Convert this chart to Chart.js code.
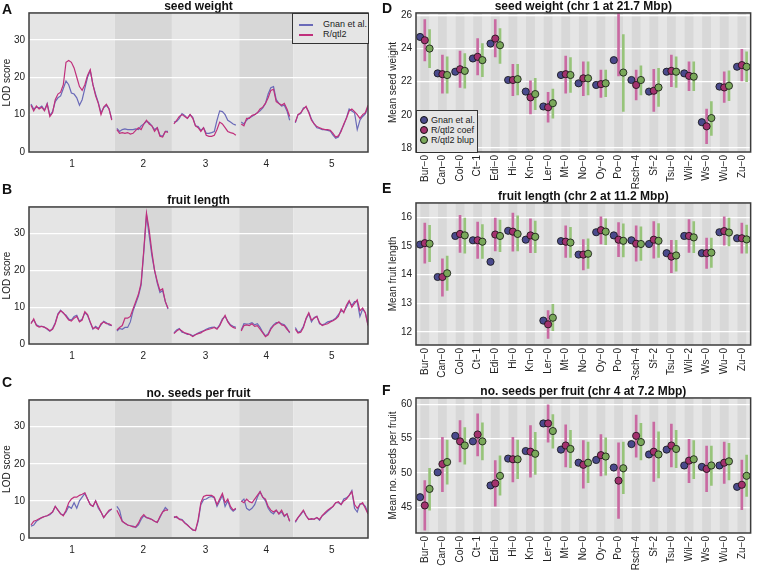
<!DOCTYPE html>
<html>
<head>
<meta charset="utf-8">
<script src="https://cdn.jsdelivr.net/npm/chart.js@4.4.1/dist/chart.umd.min.js"></script>
<style>
  body { margin: 0; background: #fff; font-family: "Liberation Sans", Arial, sans-serif; }
  #page { position: relative; width: 757px; height: 571px; overflow: hidden; }
  canvas { position: absolute; }
  .letter { position: absolute; font-weight: bold; font-size: 14px; line-height: 14px; color: #111; }
  .legend { position: absolute; box-sizing: border-box; border: 1px solid #333; background: #e5e5e5;
            font-size: 9px; color: #222; }
  .legend div { position: absolute; white-space: nowrap; line-height: 10px; }
  .legend i { position: absolute; display: block; }
</style>
</head>
<body>
<div id="page">
  <canvas id="scanA" width="378" height="172" style="left:0;top:0"></canvas>
  <canvas id="scanB" width="378" height="170" style="left:0;top:194px"></canvas>
  <canvas id="scanC" width="378" height="171" style="left:0;top:387px"></canvas>
  <canvas id="effD" width="377" height="192" style="left:380px;top:0"></canvas>
  <canvas id="effE" width="377" height="190" style="left:380px;top:190px"></canvas>
  <canvas id="effF" width="377" height="186" style="left:380px;top:385px"></canvas>

  <div class="letter" style="left:2px;top:2px">A</div>
  <div class="letter" style="left:2px;top:182px">B</div>
  <div class="letter" style="left:2px;top:375px">C</div>
  <div class="letter" style="left:382px;top:1px">D</div>
  <div class="letter" style="left:382px;top:181px">E</div>
  <div class="letter" style="left:382px;top:383px">F</div>

  <div class="legend" style="left:292px;top:13px;width:77px;height:31px">
    <i style="left:6px;top:10px;width:14px;height:1.5px;background:#6a6ab8"></i>
    <div style="left:30px;top:5px">Gnan et al.</div>
    <i style="left:6px;top:20px;width:14px;height:1.5px;background:#c0307c"></i>
    <div style="left:30px;top:15px">R/qtl2</div>
  </div>

  <div class="legend" style="left:416px;top:110px;width:62px;height:43px">
    <i style="left:3px;top:5px;width:6px;height:6px;border-radius:50%;border:0.8px solid #111;background:#4a4a8c"></i>
    <div style="left:14px;top:4px">Gnan et al.</div>
    <i style="left:3px;top:15px;width:6px;height:6px;border-radius:50%;border:0.8px solid #111;background:#a3326e"></i>
    <div style="left:14px;top:14px">R/qtl2 coef</div>
    <i style="left:3px;top:25px;width:6px;height:6px;border-radius:50%;border:0.8px solid #111;background:#7aa85a"></i>
    <div style="left:14px;top:24px">R/qtl2 blup</div>
  </div>
</div>

<script>
// ---- genome scans (A-C) ----
const CHR_NAMES = ['1', '2', '3', '4', '5'];
const CHR_LENGTHS = [30.4, 19.7, 23.5, 18.6, 27.0]; // Mbp
const CHR_GAP = 1.5;
const POS_STEP = 1; // Mbp between read-off points
const LOD_TICKS = [0, 10, 20, 30];

// LOD by chromosome, one value per POS_STEP from 0 Mbp
const seedWeightGnan = [
  [12.8,11.5,12.0,11.8,12.3,11.2,13.0,9.8,10.8,13.5,14.5,15.0,17.0,19.0,18.0,15.8,15.5,14.5,12.5,14.0,17.0,20.0,21.8,18.0,15.5,13.2,10.5,11.8,12.5,11.5,8.8],
  [6.3,5.5,6.0,6.2,6.0,6.0,6.0,6.2,6.0,7.0,7.5,8.2,7.8,7.0,6.0,6.5,4.5,4.2,5.5,5.5],
  [8.0,8.2,9.0,10.3,9.8,9.0,10.0,9.3,7.0,6.8,5.8,6.5,5.0,5.0,5.2,5.5,8.5,11.0,10.8,10.0,8.5,8.0,7.5,7.2],
  [8.0,7.5,8.5,9.2,9.5,10.0,10.5,11.0,11.8,13.0,15.5,17.2,17.5,14.0,13.0,12.3,12.5,11.0,8.5],
  [7.8,10.0,10.3,11.8,12.0,10.8,8.8,7.5,6.5,6.3,6.0,6.0,5.8,5.6,4.5,3.7,4.0,5.8,7.2,9.2,11.5,11.0,10.5,6.0,8.5,9.5,10.2,12.0]
];
const seedWeightRqtl2 = [
  [12.5,11.0,12.3,11.5,12.0,11.0,12.8,9.5,10.5,14.0,15.5,16.0,18.0,24.0,24.5,24.0,22.5,20.0,17.5,16.5,18.0,20.5,22.0,18.0,15.0,13.0,10.0,12.0,12.8,11.5,8.5],
  [6.0,5.0,5.2,5.0,5.2,4.8,5.0,5.8,6.5,6.0,7.5,8.5,7.5,7.0,5.5,6.5,4.2,4.0,5.5,5.2],
  [7.5,8.5,9.5,10.0,9.5,9.0,10.0,9.0,7.0,6.5,5.5,6.5,4.5,4.2,4.2,4.5,6.0,8.0,7.5,6.5,5.5,5.2,5.0,4.5],
  [7.5,7.0,9.0,9.0,9.8,10.0,10.5,11.5,12.0,13.0,14.5,16.5,16.8,13.5,13.0,12.5,13.0,11.5,9.5],
  [8.0,10.0,10.5,11.5,12.2,10.5,8.5,7.5,6.8,6.5,6.2,6.0,6.0,5.8,5.0,4.0,4.3,5.5,7.5,9.0,11.0,11.5,10.8,10.0,9.0,10.0,10.5,12.5]
];
const fruitLengthGnan = [
  [5.8,6.5,5.2,4.8,4.8,4.6,4.0,3.5,4.2,5.8,8.2,9.2,8.3,7.8,6.8,6.5,7.5,7.8,6.2,6.8,8.5,7.8,5.8,4.0,4.8,4.2,5.2,6.2,5.8,5.2,5.0],
  [3.5,4.2,4.0,4.5,4.5,6.0,9.0,11.0,13.0,16.0,25.0,35.0,29.5,24.0,20.0,16.5,14.0,14.5,11.5,9.5],
  [3.0,3.8,4.2,3.2,3.0,2.6,2.6,2.2,2.6,3.0,3.3,3.6,4.0,4.3,4.5,4.6,4.2,5.2,6.8,7.5,6.2,5.2,4.8,4.5],
  [3.8,5.5,5.4,5.5,5.8,5.2,5.5,4.5,3.2,2.2,2.8,4.3,5.2,5.8,5.8,5.5,5.2,4.3,3.0],
  [4.5,3.2,3.5,4.8,6.8,8.2,6.0,7.2,7.5,5.5,5.2,5.5,6.0,6.2,6.5,7.0,8.0,9.0,8.8,10.0,11.5,10.5,11.5,11.5,7.5,9.5,8.5,5.2]
];
const fruitLengthRqtl2 = [
  [5.5,6.8,5.0,4.6,4.8,4.5,4.2,3.6,4.0,5.5,8.0,9.0,8.5,7.5,6.5,6.2,7.0,7.5,6.0,6.5,8.8,8.0,6.0,4.2,4.5,4.0,5.5,6.0,5.5,5.5,5.0],
  [3.8,4.5,5.0,7.0,7.0,7.5,9.5,11.5,13.5,16.5,25.5,35.5,31.0,25.0,20.0,17.0,14.5,15.0,11.5,9.7],
  [2.8,3.5,4.0,3.5,3.0,2.8,2.5,2.0,2.5,2.8,3.0,3.5,3.8,4.0,4.2,4.5,4.0,5.0,6.5,7.8,6.0,5.0,4.5,4.2],
  [3.5,5.0,5.2,5.0,5.5,4.8,5.0,4.0,3.0,2.0,2.5,4.0,5.0,5.5,6.0,5.2,5.0,4.0,3.2],
  [4.0,3.0,3.2,4.5,7.0,8.5,6.5,7.0,7.5,5.8,5.0,5.3,5.5,6.0,6.3,6.8,7.5,9.5,8.5,10.5,11.8,10.0,11.0,12.0,9.0,9.8,8.5,5.0]
];
const seedsPerFruitGnan = [
  [3.2,3.5,4.5,5.0,5.5,5.8,6.0,6.3,7.0,8.5,7.5,6.5,6.2,7.0,8.5,8.0,9.5,8.0,10.0,11.0,12.0,10.5,9.0,8.5,10.0,8.0,7.0,5.5,6.5,7.2,7.8],
  [8.5,7.5,4.5,4.0,3.5,3.3,3.2,2.8,3.5,5.0,6.0,5.5,5.3,5.0,4.5,4.2,5.5,7.0,8.2,7.5],
  [5.8,5.5,5.2,5.0,4.2,3.5,2.8,2.2,2.0,4.5,9.0,10.3,10.5,11.0,11.2,10.8,8.5,10.0,11.5,8.5,10.0,8.0,7.2,7.8],
  [9.8,10.5,8.0,7.5,8.0,9.0,11.0,12.5,11.0,10.0,8.0,7.0,6.5,7.5,6.5,7.0,5.8,6.5,4.5],
  [4.2,5.5,6.3,7.3,6.0,5.0,5.0,5.2,5.5,4.8,6.0,6.5,7.2,7.8,8.5,9.5,9.5,9.0,10.5,10.8,11.5,12.8,8.0,7.0,9.2,9.2,8.5,6.8]
];
const seedsPerFruitRqtl2 = [
  [3.5,4.5,4.8,5.2,5.5,5.8,6.0,6.5,7.0,8.5,7.5,6.5,6.0,7.5,9.5,10.5,11.0,11.0,11.5,11.8,12.2,10.5,9.0,8.5,10.0,8.5,7.0,5.5,6.5,7.5,7.8],
  [7.5,6.0,4.5,4.0,3.5,3.3,3.0,3.0,4.0,5.5,6.3,5.5,5.3,5.0,4.5,4.2,5.8,7.0,7.5,7.5],
  [5.5,5.8,5.0,4.8,4.0,3.5,2.8,2.2,2.0,5.0,9.5,11.2,11.5,11.5,11.5,11.0,9.0,10.5,12.0,9.5,10.5,8.5,7.5,8.0],
  [10.0,9.5,10.5,9.8,9.5,10.5,11.5,12.5,11.0,10.5,8.5,7.5,7.0,7.5,6.5,7.5,6.0,6.5,4.5],
  [4.5,5.5,6.5,7.5,6.0,5.0,5.2,5.0,5.5,5.0,6.0,6.8,7.5,8.0,8.5,9.5,9.8,9.0,10.0,10.5,11.5,12.5,9.0,8.0,9.0,9.5,8.0,6.5]
];

// ---- accession effects (D-F) ----
const ACCESSIONS = ['Bur−0','Can−0','Col−0','Ct−1','Edi−0','Hi−0','Kn−0','Ler−0','Mt−0','No−0',
                    'Oy−0','Po−0','Rsch−4','Sf−2','Tsu−0','Wil−2','Ws−0','Wu−0','Zu−0'];

const seedWeightTicks = [18, 20, 22, 24, 26];
const seedWeightGnanMean = [24.7,22.5,22.6,23.4,24.3,22.1,21.4,20.5,22.4,21.9,21.8,23.3,22.1,21.4,22.6,22.5,19.55,21.7,22.9];
const seedWeightCoef     = [24.5,22.45,22.75,23.5,24.6,22.1,21.05,20.45,22.45,22.2,21.85,26.9,21.8,21.45,22.65,22.35,19.3,21.65,23.0];
const seedWeightCoefLo   = [23.25,21.3,21.65,22.4,23.5,21.15,20.05,19.55,21.3,21.15,21.05,22.35,20.9,20.2,21.7,21.45,18.25,20.75,22.05];
const seedWeightCoefHi   = [25.75,23.6,23.85,24.6,25.75,23.05,22.05,21.35,23.55,23.2,22.7,31.4,22.7,22.75,23.6,23.2,20.35,22.6,23.95];
const seedWeightBlup     = [24.0,22.4,22.65,23.3,24.2,22.15,21.25,20.7,22.4,22.2,21.9,22.55,22.1,21.65,22.6,22.3,19.8,21.75,22.9];
const seedWeightBlupLo   = [22.85,21.3,21.6,22.3,23.1,21.2,20.3,19.8,21.35,21.2,21.1,20.2,21.2,20.5,21.65,21.45,18.75,20.85,22.0];
const seedWeightBlupHi   = [25.15,23.5,23.7,24.3,25.2,23.05,22.2,21.55,23.45,23.2,22.7,24.85,22.95,22.8,23.5,23.2,20.8,22.65,23.8];

const fruitLengthTicks = [12, 13, 14, 15, 16];
const fruitLengthGnanMean = [15.05,13.92,15.35,15.2,14.45,15.53,15.22,12.4,15.17,14.7,15.48,15.37,15.2,15.07,14.75,15.35,14.75,15.48,15.27];
const fruitLengthCoef     = [15.1,13.92,15.42,15.2,15.4,15.5,15.37,12.27,15.15,14.7,15.55,15.22,15.08,15.22,14.63,15.35,14.75,15.52,15.27];
const fruitLengthCoefLo   = [14.4,13.25,14.78,14.57,14.83,14.82,14.77,11.78,14.6,14.17,15.07,14.63,14.47,14.58,14.07,14.78,14.22,15.03,14.75];
const fruitLengthCoefHi   = [15.8,14.55,16.07,15.83,15.97,16.15,15.95,12.75,15.7,15.22,16.02,15.82,15.7,15.85,15.2,15.92,15.28,16.02,15.8];
const fruitLengthBlup     = [15.08,14.05,15.37,15.15,15.35,15.42,15.32,12.5,15.12,14.73,15.5,15.18,15.07,15.18,14.67,15.3,14.77,15.47,15.23];
const fruitLengthBlupLo   = [14.45,13.45,14.75,14.57,14.8,14.83,14.77,12.05,14.6,14.22,15.05,14.62,14.5,14.6,14.12,14.77,14.25,15.0,14.75];
const fruitLengthBlupHi   = [15.72,14.65,15.97,15.75,15.9,16.05,15.87,12.97,15.65,15.25,15.95,15.77,15.67,15.78,15.2,15.85,15.28,15.97,15.73];

const seedsTicks = [45, 50, 55, 60];
const seedsGnanMean = [46.5,50.1,55.4,54.6,48.2,52.1,53.2,57.2,53.4,51.5,51.9,50.8,54.2,52.7,53.4,51.1,50.9,51.1,48.0];
const seedsCoef     = [45.3,51.3,54.6,55.6,48.5,52.0,53.1,57.2,54.0,51.2,52.6,48.9,55.4,53.1,54.0,51.8,50.6,51.5,48.3];
const seedsCoefLo   = [41.7,47.3,51.6,52.5,45.2,48.7,49.4,54.5,50.9,47.8,49.6,43.4,52.3,48.8,50.9,48.6,47.3,48.5,44.7];
const seedsCoefHi   = [48.9,55.2,57.6,58.6,51.8,55.2,56.9,59.9,57.0,54.7,55.6,54.4,58.4,57.4,57.1,54.9,53.9,54.5,51.9];
const seedsBlup     = [47.7,51.6,54.0,54.6,49.6,52.0,52.8,56.1,53.5,51.5,52.4,50.7,54.5,52.7,53.5,52.0,51.1,51.7,49.6];
const seedsBlupLo   = [44.6,48.4,51.3,51.9,46.8,49.2,49.8,53.6,50.8,48.6,49.7,47.0,51.9,49.3,50.8,49.2,48.2,49.0,46.6];
const seedsBlupHi   = [50.7,54.8,56.6,57.3,52.5,54.8,55.9,58.5,56.2,54.5,55.1,54.5,57.2,56.0,56.2,54.7,53.9,54.3,52.6];

// ---------------------------------------------------------------
const FONT = 'Liberation Sans';
const GNAN_LINE = '#6a6ab8', RQTL_LINE = '#c0307c';
const GNAN_PT = '#4a4a8c', COEF_PT = '#a3326e', BLUP_PT = '#7aa85a';
const COEF_BAR = '#c96aa2', BLUP_BAR = '#97c47a';
const BG = '#e5e5e5';

const chrStart = [];
CHR_LENGTHS.reduce((acc, len, i) => { chrStart[i] = acc; return acc + len + CHR_GAP; }, 0);
const chrMid = CHR_LENGTHS.map((len, i) => chrStart[i] + len / 2);

function scanPoints(byChr) {
  const pts = [];
  byChr.forEach((vals, c) => {
    vals.forEach((v, i) => pts.push({x: chrStart[c] + i * POS_STEP, y: v}));
    pts.push({x: chrStart[c] + CHR_LENGTHS[c] + CHR_GAP / 2, y: null});
  });
  return pts;
}

const frame = {
  id: 'frame',
  afterDraw(chart) {
    const {ctx, chartArea: a} = chart;
    ctx.save();
    ctx.strokeStyle = '#3c3c3c';
    ctx.lineWidth = 1.5;
    ctx.strokeRect(a.left, a.top, a.right - a.left, a.bottom - a.top);
    ctx.restore();
  }
};

const chrShading = {
  id: 'chrShading',
  beforeDraw(chart) {
    const {ctx, chartArea: a, scales: {x}} = chart;
    ctx.save();
    CHR_LENGTHS.forEach((len, c) => {
      const lo = c === 0 ? a.left : x.getPixelForValue(chrStart[c] - CHR_GAP / 2);
      const hi = c === CHR_LENGTHS.length - 1 ? a.right : x.getPixelForValue(chrStart[c] + len + CHR_GAP / 2);
      ctx.fillStyle = c % 2 ? '#d7d7d7' : BG;
      ctx.fillRect(lo, a.top, hi - lo, a.bottom - a.top);
    });
    ctx.restore();
  }
};

const stripes = {
  id: 'stripes',
  beforeDraw(chart) {
    const {ctx, chartArea: a, scales: {x}} = chart;
    ctx.save();
    ctx.fillStyle = BG;
    ctx.fillRect(a.left, a.top, a.right - a.left, a.bottom - a.top);
    ctx.fillStyle = '#d8d8d8';
    ACCESSIONS.forEach((_, i) => {
      const l = x.getPixelForValue(i - 0.25), r = x.getPixelForValue(i + 0.25);
      ctx.fillRect(l, a.top, r - l, a.bottom - a.top);
    });
    ctx.restore();
  }
};

function scanChart(id, title, gnan, rqtl) {
  return new Chart(document.getElementById(id), {
    type: 'line',
    data: {
      datasets: [
        {label: 'Gnan et al.', data: scanPoints(gnan), borderColor: GNAN_LINE, order: 2},
        {label: 'R/qtl2', data: scanPoints(rqtl), borderColor: RQTL_LINE, order: 1}
      ]
    },
    options: {
      responsive: false,
      animation: false,
      events: [],
      layout: {padding: {left: 0, right: 10, top: 0, bottom: 0}},
      elements: {
        line: {borderWidth: 1.2, tension: 0, fill: false},
        point: {radius: 0}
      },
      spanGaps: false,
      plugins: {
        legend: {display: false},
        tooltip: {enabled: false},
        title: {
          display: true, text: title, fullSize: false, color: '#111', padding: 0,
          font: {family: FONT, size: 12, weight: 'bold', lineHeight: 1.08}
        }
      },
      scales: {
        x: {
          type: 'linear',
          min: -0.75,
          max: chrStart[4] + CHR_LENGTHS[4],
          grid: {display: false, drawTicks: false},
          border: {display: false},
          afterBuildTicks: s => { s.ticks = chrMid.map(v => ({value: v})); },
          afterFit: s => { s.height = 20; },
          ticks: {
            padding: 6, color: '#222', font: {family: FONT, size: 10},
            callback: (v, i) => CHR_NAMES[i]
          }
        },
        y: {
          min: 0,
          max: 37.2,
          grid: {color: '#ffffff', lineWidth: 1.3, drawTicks: false},
          border: {display: false},
          afterBuildTicks: s => { s.ticks = LOD_TICKS.map(v => ({value: v})); },
          afterFit: s => { s.width = 29; },
          ticks: {padding: 4, color: '#222', font: {family: FONT, size: 10}},
          title: {display: true, text: 'LOD score', color: '#222', padding: {top: 1, bottom: 0},
                  font: {family: FONT, size: 10}}
        }
      }
    },
    plugins: [chrShading, frame]
  });
}

const OFF = 0.27;

function effectChart(id, title, yTitle, yMin, yMax, yTicks, xAxisH, gnan, coef, coefLo, coefHi, blup, blupLo, blupHi) {
  const pt = (color, order, label, vals, dx) => ({
    type: 'scatter', label, order,
    data: vals.map((v, i) => ({x: i + dx, y: v})),
    pointRadius: 3.6, pointBackgroundColor: color, pointBorderColor: '#111', pointBorderWidth: 0.8
  });
  const bar = (color, order, lo, hi, dx) => ({
    type: 'bar', order, grouped: false, barThickness: 2, borderWidth: 0,
    backgroundColor: color,
    data: lo.map((v, i) => ({x: i + dx, y: [v, hi[i]]}))
  });
  return new Chart(document.getElementById(id), {
    type: 'scatter',
    data: {
      datasets: [
        pt(GNAN_PT, 3, 'Gnan et al.', gnan, -OFF),
        pt(COEF_PT, 2, 'R/qtl2 coef', coef, 0),
        pt(BLUP_PT, 1, 'R/qtl2 blup', blup, OFF),
        bar(COEF_BAR, 5, coefLo, coefHi, 0),
        bar(BLUP_BAR, 4, blupLo, blupHi, OFF)
      ]
    },
    options: {
      responsive: false,
      animation: false,
      events: [],
      layout: {padding: {left: 0, right: 1, top: 0, bottom: 0}},
      plugins: {
        legend: {display: false},
        tooltip: {enabled: false},
        title: {
          display: true, text: title, fullSize: false, color: '#111', padding: 0,
          font: {family: FONT, size: 12, weight: 'bold', lineHeight: 1.08}
        }
      },
      scales: {
        x: {
          type: 'linear', min: -0.5, max: ACCESSIONS.length - 0.5, offset: false,
          grid: {display: false, drawTicks: false},
          border: {display: false},
          afterBuildTicks: s => { s.ticks = ACCESSIONS.map((_, i) => ({value: i})); },
          afterFit: s => { s.height = xAxisH; },
          ticks: {
            autoSkip: false, minRotation: 90, maxRotation: 90, padding: 3,
            color: '#222', font: {family: FONT, size: 10},
            callback: (v, i) => ACCESSIONS[i]
          }
        },
        y: {
          min: yMin, max: yMax,
          grid: {color: '#ffffff', lineWidth: 1.3, drawTicks: false},
          border: {display: false},
          afterBuildTicks: s => { s.ticks = yTicks.map(v => ({value: v})); },
          afterFit: s => { s.width = 36; },
          ticks: {padding: 4, color: '#222', font: {family: FONT, size: 10}},
          title: {display: true, text: yTitle, color: '#222', padding: {top: 7, bottom: 0},
                  font: {family: FONT, size: 10}}
        }
      }
    },
    plugins: [stripes, frame]
  });
}

scanChart('scanA', 'seed weight', seedWeightGnan, seedWeightRqtl2);
scanChart('scanB', 'fruit length', fruitLengthGnan, fruitLengthRqtl2);
scanChart('scanC', 'no. seeds per fruit', seedsPerFruitGnan, seedsPerFruitRqtl2);

effectChart('effD', 'seed weight (chr 1 at 21.7 Mbp)', 'Mean seed weight', 17.75, 26.15, seedWeightTicks, 40,
  seedWeightGnanMean, seedWeightCoef, seedWeightCoefLo, seedWeightCoefHi, seedWeightBlup, seedWeightBlupLo, seedWeightBlupHi);
effectChart('effE', 'fruit length (chr 2 at 11.2 Mbp)', 'Mean fruit length', 11.55, 16.5, fruitLengthTicks, 35,
  fruitLengthGnanMean, fruitLengthCoef, fruitLengthCoefLo, fruitLengthCoefHi, fruitLengthBlup, fruitLengthBlupLo, fruitLengthBlupHi);
effectChart('effF', 'no. seeds per fruit (chr 4 at 7.2 Mbp)', 'Mean no. seeds per fruit', 41.3, 60.9, seedsTicks, 38,
  seedsGnanMean, seedsCoef, seedsCoefLo, seedsCoefHi, seedsBlup, seedsBlupLo, seedsBlupHi);
</script>
</body>
</html>
